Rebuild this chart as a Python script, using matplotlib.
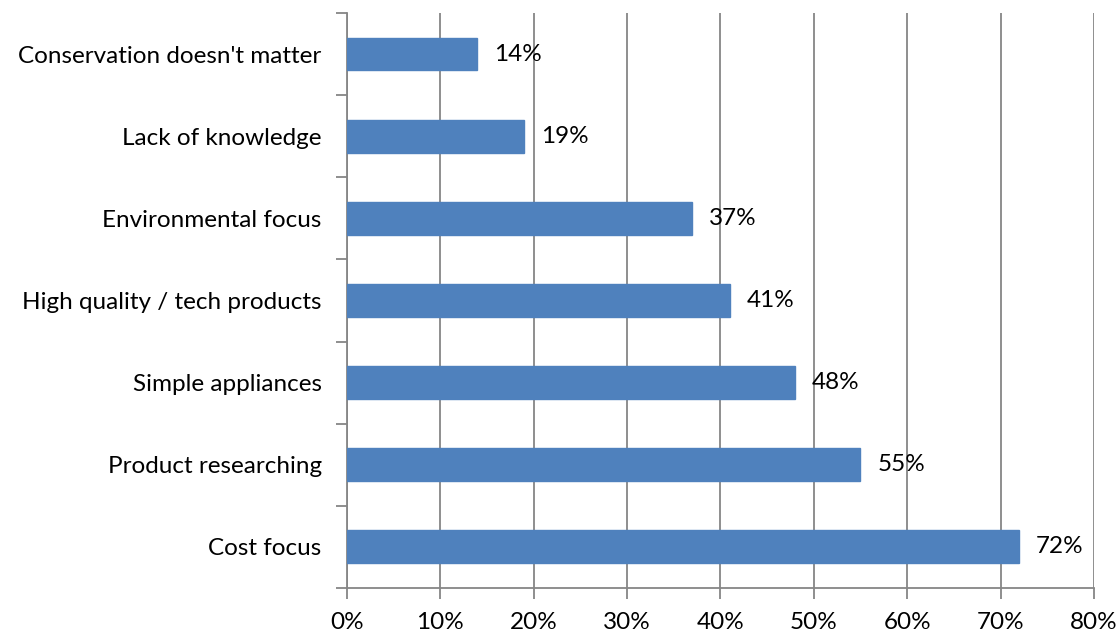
import matplotlib
matplotlib.use("Agg")
import matplotlib.pyplot as plt
from matplotlib.ticker import FixedLocator

categories = ["Cost focus", "Product researching", "Simple appliances",
              "High quality / tech products", "Environmental focus",
              "Lack of knowledge", "Conservation doesn't matter"]
values = [72, 55, 48, 41, 37, 19, 14]
xticks = [0, 10, 20, 30, 40, 50, 60, 70, 80]
xtick_labels = ["0%", "10%", "20%", "30%", "40%", "50%", "60%", "70%", "80%"]

plt.rcParams['font.family'] = ['Lato', 'DejaVu Sans']
FS = 17.5

fig = plt.figure(figsize=(11.19, 6.36), dpi=100)
ax = fig.add_axes([0.3098, 0.0755, 0.9777 - 0.3098, 0.9796 - 0.0755])

pos = list(range(len(categories)))
ax.bar_label(ax.barh(pos, values, height=0.4, color="#4F81BD", edgecolor="#4F81BD", zorder=3),
             labels=[f"{v}%" for v in values], padding=12, fontsize=FS, color="#000000")

ax.set_xlim(0, 80)
ax.set_ylim(-0.5, len(categories) - 0.5)
ax.set_xticks(xticks)
ax.set_xticklabels(xtick_labels, fontsize=FS)
ax.set_yticks(pos)
ax.set_yticklabels(categories, fontsize=FS)
ax.yaxis.set_minor_locator(FixedLocator([p - 0.5 for p in range(len(categories) + 1)]))
ax.tick_params(axis='y', which='major', length=0, pad=18)
ax.tick_params(axis='y', which='minor', length=8, width=1.3, color="#868686", direction='out')
ax.tick_params(axis='x', length=8, width=1.3, color="#868686", direction='out', pad=9)

ax.grid(axis='x', color="#868686", linewidth=1.3, zorder=0)
ax.set_axisbelow(True)
for s in ['top', 'right']:
    ax.spines[s].set_visible(False)
for s in ['left', 'bottom']:
    ax.spines[s].set_color("#868686")
    ax.spines[s].set_linewidth(1.3)

fig.savefig("out.png", dpi=100)
